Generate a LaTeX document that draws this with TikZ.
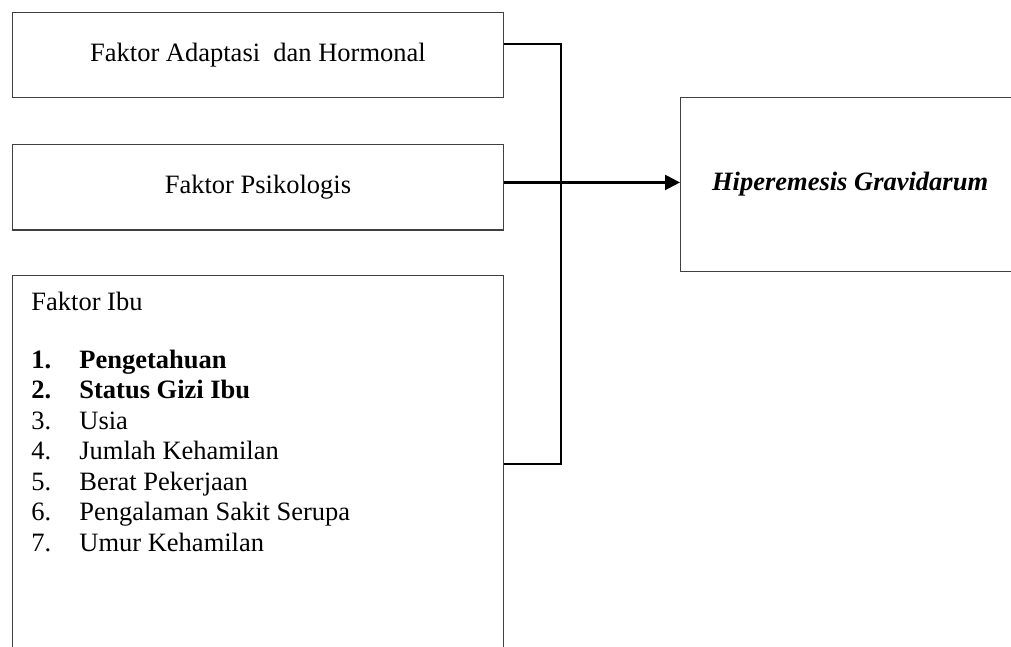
\documentclass[tikz,border=0pt]{standalone}
\usepackage{fontspec}
\setmainfont{Liberation Serif}
\usetikzlibrary{arrows.meta}

\begin{document}
\begin{tikzpicture}[x=0.5pt,y=-0.5pt,
  every node/.style={font=\fontsize{13.25}{15.25}\selectfont},
  factor/.style={draw=black!75,line width=0.6pt,anchor=north west,inner sep=0pt,
    minimum width=245.35pt,minimum height=42.65pt},
  link/.style={line width=1.15pt,line join=miter}]

\useasboundingbox (0,0) rectangle (1011,647);
\clip (0,0) rectangle (1011,647);

\node[factor] (adaptasi) at (12,11.7) {Faktor Adaptasi\ \ dan Hormonal};
\node[factor] (psikologis) at (12,144) {Faktor Psikologis};
\node[factor,minimum height=212.5pt] (ibu) at (12,275) {};
\node[anchor=north west,inner sep=0pt] (ibulist) at (31,288.6) {\begin{tabular}{@{}l@{}}
Faktor Ibu\\[13.75pt]
\textbf{\makebox[24pt][l]{1.}Pengetahuan}\\
\textbf{\makebox[24pt][l]{2.}Status Gizi Ibu}\\
\makebox[24pt][l]{3.}Usia\\
\makebox[24pt][l]{4.}Jumlah Kehamilan\\
\makebox[24pt][l]{5.}Berat Pekerjaan\\
\makebox[24pt][l]{6.}Pengalaman Sakit Serupa\\
\makebox[24pt][l]{7.}Umur Kehamilan
\end{tabular}};

\node[factor,minimum width=169.5pt,minimum height=87pt] (hiperemesis) at (680,97)
  {\raisebox{3pt}{\textbf{\textit{Hiperemesis Gravidarum}}}};

\coordinate (bus) at (560.7,300);
\draw[link] ([yshift=5.3pt]adaptasi.east) -| (bus) |- ([yshift=-94.35pt]ibu.north east);
\draw[link,-{Triangle[length=7.5pt,width=7.5pt]}] ([yshift=2.4pt]psikologis.east)
  -- ([yshift=2.4pt]psikologis.east -| hiperemesis.west);
\end{tikzpicture}
\end{document}
